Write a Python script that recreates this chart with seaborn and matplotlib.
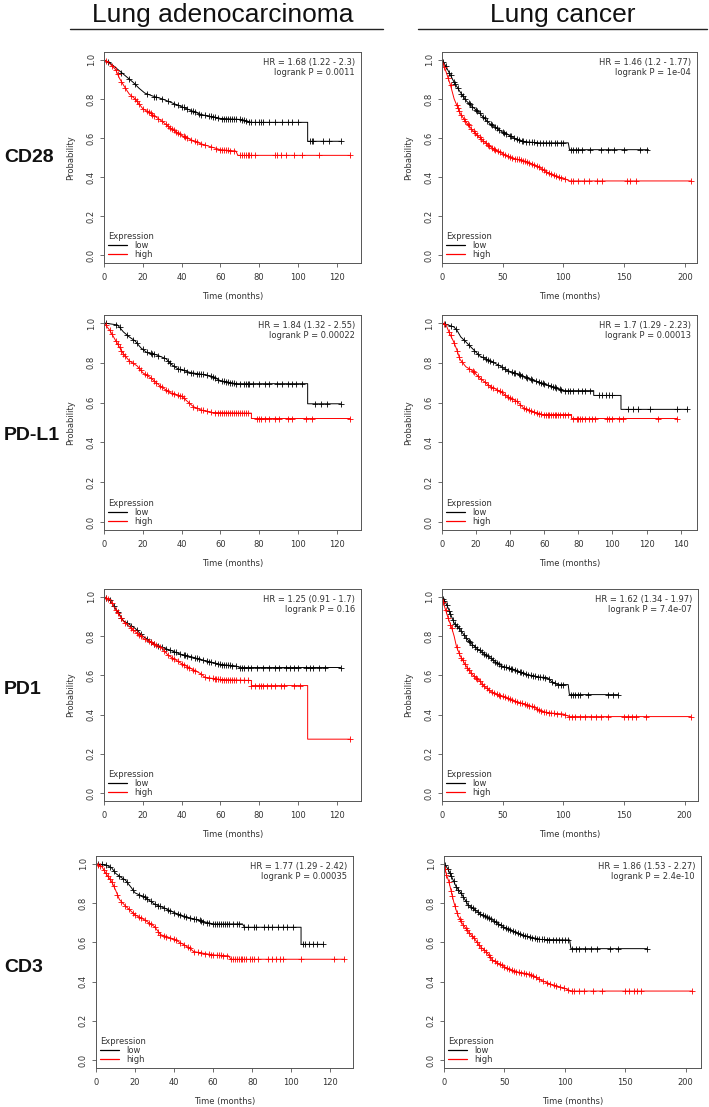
import numpy as np
import seaborn as sns
import matplotlib.pyplot as plt
from matplotlib.lines import Line2D

# ---------------- data ----------------
markers = ["CD28", "PD-L1", "PD1", "CD3"]
cohorts = ["Lung adenocarcinoma", "Lung cancer"]

# CD28 - lung adenocarcinoma
cd28_ad_low_t = [0, 3, 6, 9, 12, 15, 18, 21, 25, 30, 35, 40, 45, 50, 55, 60, 70, 76, 105, 105, 122]
cd28_ad_low_s = [1.0, 0.985, 0.96, 0.935, 0.91, 0.885, 0.855, 0.83, 0.815, 0.80, 0.78, 0.76, 0.74, 0.72, 0.71, 0.70, 0.695, 0.68, 0.68, 0.583, 0.583]
cd28_ad_low_c = [2, 9, 13, 16, 22, 26, 27, 30, 33, 36, 38, 40, 41, 43, 45, 46, 47, 49, 50, 52, 54, 55, 56, 57, 59, 61, 62, 63, 64, 65, 66, 67, 68, 70, 71, 72, 73, 75, 76, 78, 80, 81, 82, 85, 88, 92, 95, 97, 100, 106, 107, 108, 113, 116, 122]
cd28_ad_high_t = [0, 3, 6, 8, 11, 13, 16, 20, 25, 30, 35, 40, 45, 50, 55, 60, 68, 69, 127]
cd28_ad_high_s = [1.0, 0.98, 0.95, 0.905, 0.855, 0.825, 0.80, 0.75, 0.72, 0.685, 0.645, 0.613, 0.59, 0.57, 0.555, 0.54, 0.533, 0.511, 0.511]
cd28_ad_high_c = [1, 4, 6, 7, 9, 11, 14, 16, 17, 18, 20, 22, 23, 24, 25, 26, 28, 30, 32, 33, 34, 35, 36, 37, 38, 39, 41, 42, 43, 45, 47, 48, 50, 52, 55, 58, 60, 61, 62, 63, 64, 65, 67, 70, 71, 72, 73, 74, 75, 76, 78, 88, 89, 91, 94, 98, 102, 111, 127]

# CD28 - lung cancer
cd28_lc_low_t = [0, 2, 5, 10, 15, 20, 25, 30, 35, 40, 45, 50, 55, 60, 65, 70, 80, 104, 105, 170]
cd28_lc_low_s = [1.0, 0.98, 0.945, 0.885, 0.835, 0.79, 0.76, 0.733, 0.70, 0.67, 0.65, 0.63, 0.615, 0.597, 0.585, 0.58, 0.575, 0.575, 0.54, 0.54]
cd28_lc_low_c = [1, 3, 6, 7, 10, 11, 13, 16, 17, 19, 22, 23, 25, 28, 29, 31, 34, 35, 37, 40, 41, 44, 45, 47, 50, 51, 53, 56, 57, 59, 62, 63, 66, 67, 69, 72, 74, 76, 78, 81, 83, 86, 88, 90, 93, 95, 98, 100, 106, 108, 110, 112, 115, 122, 131, 137, 142, 150, 163, 169]
cd28_lc_high_t = [0, 3, 7, 10, 12, 15, 20, 25, 30, 35, 40, 45, 50, 55, 60, 65, 70, 75, 80, 85, 90, 95, 100, 105, 205]
cd28_lc_high_s = [1.0, 0.945, 0.87, 0.80, 0.77, 0.725, 0.68, 0.64, 0.608, 0.58, 0.555, 0.535, 0.52, 0.505, 0.494, 0.487, 0.477, 0.465, 0.45, 0.43, 0.414, 0.40, 0.395, 0.38, 0.38]
cd28_lc_high_c = [2, 5, 7, 12, 13, 14, 16, 18, 19, 21, 22, 24, 26, 27, 29, 31, 32, 34, 36, 38, 39, 41, 43, 44, 46, 48, 50, 52, 54, 56, 58, 60, 62, 63, 65, 67, 68, 70, 72, 74, 76, 78, 80, 82, 84, 86, 88, 90, 92, 94, 96, 98, 101, 106, 108, 112, 117, 121, 128, 132, 152, 155, 160, 205]

# PD-L1 - lung adenocarcinoma
pdl1_ad_low_t = [0, 7, 10, 13, 16, 19, 22, 27, 32, 35, 38, 45, 52, 56, 60, 68, 105, 105, 122]
pdl1_ad_low_s = [1.0, 0.99, 0.955, 0.93, 0.91, 0.875, 0.852, 0.84, 0.82, 0.79, 0.77, 0.75, 0.74, 0.73, 0.71, 0.695, 0.695, 0.594, 0.594]
pdl1_ad_low_c = [1, 6, 8, 12, 15, 17, 20, 22, 24, 25, 26, 28, 31, 33, 34, 36, 38, 39, 41, 43, 45, 46, 48, 49, 50, 51, 53, 55, 56, 57, 59, 61, 62, 63, 64, 65, 66, 67, 68, 70, 72, 73, 74, 75, 77, 80, 83, 85, 89, 92, 95, 97, 99, 102, 109, 112, 115, 122]
pdl1_ad_high_t = [0, 3, 5.5, 8, 10, 13, 17, 20, 24, 29, 34, 40, 43, 46, 50, 56, 76, 76, 127]
pdl1_ad_high_s = [1.0, 0.963, 0.92, 0.878, 0.845, 0.81, 0.785, 0.75, 0.725, 0.683, 0.65, 0.632, 0.606, 0.58, 0.563, 0.55, 0.547, 0.52, 0.52]
pdl1_ad_high_c = [1, 3, 4, 6, 7, 8, 9, 10, 11, 13, 15, 18, 19, 21, 22, 24, 26, 27, 29, 30, 32, 33, 35, 36, 38, 39, 40, 41, 44, 46, 48, 50, 51, 53, 55, 57, 59, 60, 61, 62, 63, 64, 65, 66, 67, 68, 69, 70, 71, 72, 73, 74, 79, 80, 81, 83, 85, 88, 90, 95, 97, 104, 107, 127]

# PD-L1 - lung cancer
pdl1_lc_low_t = [0, 7, 9, 11, 14, 18, 22, 28, 34, 38, 44, 50, 55, 61, 67, 71, 89, 89, 105, 105, 144]
pdl1_lc_low_s = [1.0, 0.98, 0.96, 0.93, 0.905, 0.87, 0.835, 0.81, 0.785, 0.762, 0.745, 0.725, 0.708, 0.69, 0.674, 0.66, 0.66, 0.636, 0.636, 0.566, 0.566]
pdl1_lc_low_c = [2, 5, 8, 13, 16, 19, 21, 24, 26, 27, 28, 30, 33, 35, 37, 39, 41, 42, 43, 45, 46, 47, 49, 50, 52, 53, 55, 57, 58, 59, 60, 62, 64, 65, 66, 67, 69, 70, 72, 74, 75, 77, 80, 82, 84, 87, 92, 94, 96, 98, 100, 109, 112, 115, 122, 138, 144]
pdl1_lc_high_t = [0, 2.5, 4.5, 6.5, 8.5, 10.5, 14, 18, 22, 28, 34, 38, 44, 48, 53, 59, 76, 76, 138]
pdl1_lc_high_s = [1.0, 0.988, 0.946, 0.912, 0.87, 0.818, 0.78, 0.76, 0.725, 0.683, 0.657, 0.632, 0.606, 0.572, 0.555, 0.54, 0.54, 0.52, 0.52]
pdl1_lc_high_c = [1, 4, 5, 7, 9, 10, 12, 16, 18, 19, 21, 23, 25, 27, 29, 30, 32, 34, 35, 37, 39, 40, 41, 43, 44, 46, 48, 49, 51, 52, 54, 56, 57, 58, 60, 61, 62, 63, 64, 65, 66, 67, 68, 69, 71, 72, 74, 77, 79, 80, 81, 82, 84, 86, 88, 90, 97, 98, 100, 104, 106, 127, 138]

# PD1 - lung adenocarcinoma
pd1_ad_low_t = [0, 3, 5, 8, 10, 13, 16, 20, 25, 30, 35, 40, 45, 50, 55, 60, 68, 70, 122]
pd1_ad_low_s = [1.0, 0.985, 0.955, 0.91, 0.878, 0.86, 0.84, 0.80, 0.765, 0.742, 0.725, 0.706, 0.695, 0.68, 0.668, 0.656, 0.648, 0.64, 0.64]
pd1_ad_low_c = [1, 3, 5, 7, 9, 12, 14, 17, 19, 22, 24, 26, 28, 30, 32, 34, 36, 37, 39, 41, 42, 43, 45, 47, 48, 49, 51, 53, 54, 55, 57, 59, 60, 61, 62, 63, 64, 65, 66, 68, 70, 71, 72, 74, 76, 79, 82, 85, 88, 90, 94, 96, 98, 100, 104, 106, 108, 111, 114, 122]
pd1_ad_high_t = [0, 3, 6, 10, 15, 20, 25, 30, 33, 40, 45, 50, 52, 60, 76, 76, 105, 105, 127]
pd1_ad_high_s = [1.0, 0.986, 0.935, 0.875, 0.832, 0.79, 0.763, 0.737, 0.703, 0.66, 0.634, 0.608, 0.59, 0.579, 0.574, 0.548, 0.548, 0.275, 0.275]
pd1_ad_high_c = [1, 2, 4, 6, 7, 9, 11, 14, 15, 17, 18, 19, 21, 23, 24, 26, 27, 29, 31, 33, 35, 36, 38, 40, 41, 43, 44, 46, 47, 50, 52, 54, 56, 57, 58, 59, 60, 61, 62, 63, 64, 65, 66, 67, 68, 70, 72, 74, 76, 78, 80, 81, 82, 84, 86, 88, 91, 93, 98, 101, 127]

# PD1 - lung cancer
pd1_lc_low_t = [0, 3, 5, 10, 15, 20, 25, 30, 35, 40, 45, 50, 55, 60, 65, 70, 80, 87, 90, 95, 104, 105, 145]
pd1_lc_low_s = [1.0, 0.97, 0.944, 0.867, 0.833, 0.79, 0.757, 0.731, 0.71, 0.688, 0.665, 0.646, 0.638, 0.629, 0.615, 0.604, 0.592, 0.588, 0.57, 0.553, 0.553, 0.502, 0.502]
pd1_lc_low_c = [1, 2, 4, 6, 7, 9, 11, 12, 14, 16, 18, 20, 22, 23, 25, 27, 29, 31, 33, 35, 36, 38, 40, 42, 44, 45, 47, 49, 51, 53, 55, 57, 58, 60, 62, 64, 65, 67, 69, 71, 73, 75, 77, 79, 81, 83, 85, 88, 91, 93, 96, 98, 100, 106, 108, 110, 112, 114, 120, 137, 141, 145]
pd1_lc_high_t = [0, 2, 5, 8, 10, 12, 15, 20, 25, 30, 35, 40, 45, 50, 55, 60, 65, 70, 75, 80, 85, 90, 100, 105, 205]
pd1_lc_high_s = [1.0, 0.952, 0.893, 0.842, 0.80, 0.745, 0.70, 0.646, 0.604, 0.578, 0.544, 0.519, 0.503, 0.493, 0.48, 0.468, 0.46, 0.45, 0.44, 0.425, 0.413, 0.408, 0.403, 0.39, 0.39]
pd1_lc_high_c = [1, 3, 5, 7, 8, 12, 14, 16, 17, 19, 21, 22, 24, 26, 28, 29, 31, 33, 35, 37, 39, 41, 43, 45, 47, 48, 50, 52, 54, 56, 58, 60, 62, 64, 66, 68, 70, 72, 74, 76, 78, 80, 82, 84, 86, 88, 90, 92, 95, 98, 101, 105, 107, 110, 114, 118, 123, 127, 131, 137, 150, 153, 157, 160, 168, 205]

# CD3 - lung adenocarcinoma
cd3_ad_low_t = [0, 5, 8, 10, 13, 15, 18, 20, 25, 30, 35, 40, 45, 50, 55, 60, 75, 76, 105, 105, 116]
cd3_ad_low_s = [1.0, 0.995, 0.98, 0.952, 0.93, 0.918, 0.88, 0.852, 0.83, 0.795, 0.775, 0.752, 0.732, 0.72, 0.706, 0.694, 0.694, 0.677, 0.677, 0.59, 0.59]
cd3_ad_low_c = [1, 3, 5, 7, 9, 12, 14, 16, 19, 22, 24, 25, 26, 28, 30, 32, 33, 35, 37, 38, 40, 42, 43, 45, 46, 48, 50, 51, 53, 54, 55, 57, 58, 60, 61, 62, 63, 64, 65, 66, 67, 68, 70, 72, 73, 76, 78, 81, 82, 86, 88, 90, 93, 96, 98, 101, 106, 107, 109, 111, 113, 116]
cd3_ad_high_t = [0, 3, 5, 8, 10, 12, 15, 20, 25, 30, 33, 40, 45, 48, 50, 60, 68, 69, 127]
cd3_ad_high_s = [1.0, 0.986, 0.952, 0.91, 0.867, 0.818, 0.786, 0.74, 0.714, 0.68, 0.64, 0.616, 0.588, 0.57, 0.553, 0.536, 0.531, 0.514, 0.514]
cd3_ad_high_c = [1, 2, 4, 5, 6, 7, 8, 9, 11, 13, 15, 17, 19, 20, 22, 23, 25, 27, 28, 30, 32, 33, 35, 36, 38, 40, 41, 43, 45, 47, 48, 50, 52, 54, 56, 58, 59, 60, 62, 63, 64, 65, 67, 69, 70, 71, 72, 73, 74, 75, 76, 77, 79, 80, 81, 83, 88, 90, 92, 94, 96, 105, 122, 127]

# CD3 - lung cancer
cd3_lc_low_t = [0, 2, 5, 10, 15, 20, 25, 30, 35, 40, 45, 50, 55, 60, 65, 70, 80, 104, 105, 168]
cd3_lc_low_s = [1.0, 0.986, 0.952, 0.884, 0.842, 0.79, 0.769, 0.745, 0.73, 0.714, 0.695, 0.677, 0.665, 0.65, 0.636, 0.629, 0.615, 0.612, 0.568, 0.568]
cd3_lc_low_c = [1, 3, 5, 6, 8, 10, 12, 14, 16, 18, 20, 22, 24, 26, 28, 30, 32, 34, 36, 37, 39, 41, 43, 45, 47, 49, 51, 53, 55, 57, 59, 61, 63, 65, 67, 69, 71, 73, 75, 77, 79, 81, 83, 85, 87, 90, 93, 95, 98, 100, 103, 106, 109, 112, 117, 122, 127, 137, 144, 168]
cd3_lc_high_t = [0, 2, 4, 6, 8, 10, 12, 15, 20, 25, 30, 35, 40, 45, 50, 55, 60, 70, 75, 80, 90, 100, 105, 205]
cd3_lc_high_s = [1.0, 0.945, 0.91, 0.86, 0.808, 0.765, 0.731, 0.697, 0.655, 0.621, 0.578, 0.553, 0.51, 0.493, 0.476, 0.459, 0.45, 0.439, 0.425, 0.408, 0.383, 0.366, 0.352, 0.352]
cd3_lc_high_c = [1, 2, 4, 6, 7, 9, 11, 13, 14, 16, 18, 19, 21, 23, 25, 27, 29, 31, 33, 35, 37, 38, 40, 42, 44, 46, 48, 50, 52, 54, 56, 58, 60, 62, 64, 66, 68, 70, 72, 74, 76, 79, 82, 85, 88, 91, 93, 96, 99, 103, 106, 108, 112, 116, 123, 131, 150, 153, 157, 160, 163, 205]

hr_text = [
    ["HR = 1.68 (1.22 - 2.3)\nlogrank P = 0.0011", "HR = 1.46 (1.2 - 1.77)\nlogrank P = 1e-04"],
    ["HR = 1.84 (1.32 - 2.55)\nlogrank P = 0.00022", "HR = 1.7 (1.29 - 2.23)\nlogrank P = 0.00013"],
    ["HR = 1.25 (0.91 - 1.7)\nlogrank P = 0.16", "HR = 1.62 (1.34 - 1.97)\nlogrank P = 7.4e-07"],
    ["HR = 1.77 (1.29 - 2.42)\nlogrank P = 0.00035", "HR = 1.86 (1.53 - 2.27)\nlogrank P = 2.4e-10"],
]
xmax = [[132.5, 210], [132.5, 149.6], [132.5, 211], [131.6, 212.7]]
xticks_left = [0, 20, 40, 60, 80, 100, 120]
xticks_right = [[0, 50, 100, 150, 200], [0, 20, 40, 60, 80, 100, 120, 140],
                [0, 50, 100, 150, 200], [0, 50, 100, 150, 200]]
yticks = [0.0, 0.2, 0.4, 0.6, 0.8, 1.0]

curves = [
    [(cd28_ad_low_t, cd28_ad_low_s, cd28_ad_low_c, cd28_ad_high_t, cd28_ad_high_s, cd28_ad_high_c),
     (cd28_lc_low_t, cd28_lc_low_s, cd28_lc_low_c, cd28_lc_high_t, cd28_lc_high_s, cd28_lc_high_c)],
    [(pdl1_ad_low_t, pdl1_ad_low_s, pdl1_ad_low_c, pdl1_ad_high_t, pdl1_ad_high_s, pdl1_ad_high_c),
     (pdl1_lc_low_t, pdl1_lc_low_s, pdl1_lc_low_c, pdl1_lc_high_t, pdl1_lc_high_s, pdl1_lc_high_c)],
    [(pd1_ad_low_t, pd1_ad_low_s, pd1_ad_low_c, pd1_ad_high_t, pd1_ad_high_s, pd1_ad_high_c),
     (pd1_lc_low_t, pd1_lc_low_s, pd1_lc_low_c, pd1_lc_high_t, pd1_lc_high_s, pd1_lc_high_c)],
    [(cd3_ad_low_t, cd3_ad_low_s, cd3_ad_low_c, cd3_ad_high_t, cd3_ad_high_s, cd3_ad_high_c),
     (cd3_lc_low_t, cd3_lc_low_s, cd3_lc_low_c, cd3_lc_high_t, cd3_lc_high_s, cd3_lc_high_c)],
]

# ---------------- style ----------------
sns.set_style("ticks")
plt.rcParams['font.family'] = ['DejaVu Sans']
small = 6.0
gray = "#555555"
txt = "#333333"
red = "#FF0000"

W, H = 709, 1107
fig = plt.figure(figsize=(W / 100, H / 100), dpi=100)

# axes boxes in pixels: (left, top, right, bottom)
boxes = [
    [(104, 52, 361, 263), (442, 52, 697, 263)],
    [(104, 315, 361, 530), (442, 315, 697, 530)],
    [(104, 589, 361, 801), (442, 589, 698, 801)],
    [(96, 856, 353, 1068), (444, 856, 701, 1068)],
]

for r in range(4):
    for c in range(2):
        l, t, rr, b = boxes[r][c]
        ax = fig.add_axes([l / W, 1 - b / H, (rr - l) / W, (b - t) / H])
        lt, ls, lc, ht, hs, hc = curves[r][c]
        for tt, ss, cc, col in [(lt, ls, lc, "black"), (ht, hs, hc, red)]:
            sns.lineplot(x=tt, y=ss, estimator=None, sort=False, color=col,
                         lw=0.7, ax=ax)
            cy = np.interp(cc, np.array(tt, float), np.array(ss, float))
            ax.plot(cc, cy, ls="none", marker="+", ms=3.8, mew=0.6, color=col)
        ax.set_xlim(0, xmax[r][c])
        ax.set_ylim(-0.04, 1.04)
        ax.set_xticks(xticks_left if c == 0 else xticks_right[r])
        ax.set_yticks(yticks)
        ax.set_yticklabels([f"{v:.1f}" for v in yticks], rotation=90, va="center")
        ax.tick_params(axis="both", direction="out", length=3, width=0.6,
                       colors=gray, labelcolor=txt, labelsize=small)
        ax.tick_params(axis="x", pad=4.5)
        ax.tick_params(axis="y", pad=3)
        for sp in ax.spines.values():
            sp.set_visible(True)
            sp.set_color(gray)
            sp.set_linewidth(0.7)
        ax.set_xlabel("Time (months)", fontsize=small, color=txt, labelpad=7)
        if r < 3:
            ax.set_ylabel("Probability", fontsize=small, color=txt, labelpad=8)
        else:
            ax.set_ylabel("")
        ax.text(0.977, 0.972, hr_text[r][c], transform=ax.transAxes, ha="right",
                va="top", fontsize=small, color=txt, linespacing=1.2)
        h_low, = ax.plot([], [], color="black", lw=0.9)
        h_high, = ax.plot([], [], color=red, lw=0.9)
        leg = ax.legend([h_low, h_high], ["low", "high"], title="Expression",
                        loc="lower left", frameon=False, fontsize=small,
                        title_fontsize=small, handlelength=2.2, handletextpad=0.9,
                        labelspacing=0.0, borderaxespad=0.2, borderpad=0.3,
                        alignment="left")
        for tx in leg.get_texts():
            tx.set_color(txt)
        leg.get_title().set_color(txt)

# column headers with rules
head_font = ["Liberation Sans", "DejaVu Sans"]
for name, cx, x0, x1 in [(cohorts[0], 223, 70, 383), (cohorts[1], 563, 418, 707)]:
    fig.text(cx / W, 1 - 15 / H, name, ha="center", va="center", fontsize=19,
             family=head_font, color="#111111")
    fig.add_artist(Line2D([x0 / W, x1 / W], [1 - 29 / H, 1 - 29 / H],
                          color="#222222", lw=1.0))

# row labels
for name, cy in zip(markers, [158, 435, 690, 968]):
    fig.text(4 / W, 1 - cy / H, name, ha="left", va="center", fontsize=14,
             family=head_font, weight="bold", color="#111111")

plt.savefig("out.png", dpi=100)
